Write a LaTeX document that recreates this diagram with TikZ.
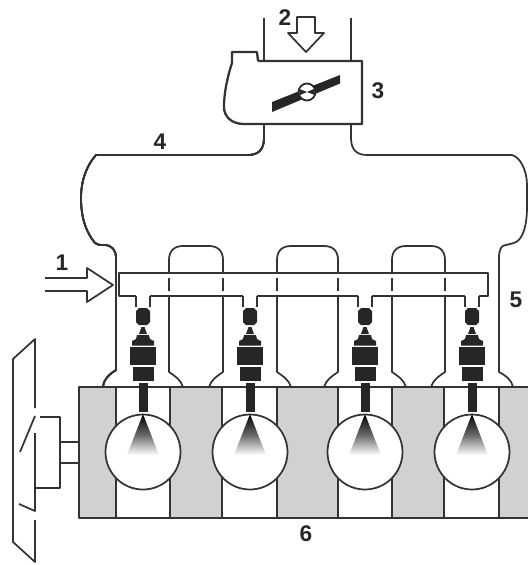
\documentclass[tikz,border=0pt]{standalone}
\usepackage{fontspec}
\setmainfont{Liberation Sans}
\definecolor{ink}{gray}{0.2}
\definecolor{blockgray}{gray}{0.82}
\tikzset{
  wall/.style={draw=ink,line width=1.3pt,line join=round},
  thick wall/.style={draw=ink,line width=1.7pt,line join=round},
  solid part/.style={fill=black!85,draw=none},
  lab/.style={font=\bfseries\fontsize{17}{17}\selectfont,text=black!85,inner sep=0pt},
}
\newcommand{\injector}[1]{%
  \begin{scope}[shift={(#1,0)}]
    \draw[wall] (-7,296) -- (-7,307) (7,296) -- (7,307);
    \fill[solid part] (-4,308) -- (4,308) -- (7,311) -- (7,322) -- (4,325) -- (-4,325) -- (-7,322) -- (-7,311) -- cycle;
    \fill[solid part] (-1.5,327) -- (1.5,327) -- (4,334) -- (-4,334) -- cycle;
    \fill[solid part] (-6,335) -- (6,335) -- (7,339) -- (11,341) -- (11,345.5) -- (-11,345.5) -- (-11,341) -- (-7,339) -- cycle;
    \fill[solid part] (-13,347) -- (13,347) -- (13,364.5) -- (-13,364.5) -- cycle;
    \fill[solid part] (-10.5,366.5) -- (10.5,366.5) -- (10.5,381) -- (-10.5,381) -- cycle;
    \fill[solid part] (-4.5,383) -- (4.5,383) -- (4.5,412) -- (-4.5,412) -- cycle;
    \draw[wall,fill=white] (0,452) circle (37.5);
    \shade[top color=black,bottom color=white,middle color=black!60] (0,414) -- (16,455) -- (-16,455) -- cycle;
  \end{scope}}
\begin{document}
\begin{tikzpicture}[x=0.75pt,y=-0.75pt]
\useasboundingbox (0,0) rectangle (528,565);
% engine block
\fill[blockgray] (79,387) rectangle (116,518) (170,387) rectangle (222,518)
  (277,387) rectangle (338,518) (392,387) rectangle (444,518) (499,387) rectangle (528,518);
\draw[wall] (528,387) -- (79,387) -- (79,518) -- (528,518);
\foreach \xx in {116,170,222,277,338,392,444,499}
  \draw[wall] (\xx,387) -- (\xx,518);
\foreach \xx in {143,250,365,472} \injector{\xx}
% manifold outer
\draw[wall] (264,124) -- (264,138) .. controls (264,150) and (258,155) .. (248,155)
  -- (96,155) .. controls (87,165) and (81,180) .. (81,198)
  .. controls (81,218) and (86,232) .. (95,243)
  .. controls (97,245) and (100,245) .. (104,245)
  .. controls (112,245) and (116,250) .. (116,258)
  -- (116,370) .. controls (110,374) and (104,378) .. (103,387);
\draw[wall] (351,124) -- (351,138) .. controls (351,150) and (357,155) .. (367,155)
  -- (512,155) .. controls (520,157) and (527,170) .. (527,185)
  -- (527,208) .. controls (527,222) and (524,240) .. (514,243)
  -- (506,245) .. controls (501,245) and (499,250) .. (499,258)
  -- (499,372) .. controls (505,375) and (512,380) .. (513,387);
% runners
\foreach \xa/\xb in {169/223,277/338,392/445}{
  \draw[wall] (\xa+14,387) .. controls (\xa+12,380) and (\xa+6,376) .. (\xa,372) -- (\xa,297);
  \draw[wall] (\xa,273) -- (\xa,260) .. controls (\xa,251) and (\xa+5,246) .. (\xa+14,246)
    -- (\xb-14,246) .. controls (\xb-5,246) and (\xb,251) .. (\xb,260) -- (\xb,273);
  \draw[wall] (\xb,297) -- (\xb,372) .. controls (\xb-6,376) and (\xb-12,380) .. (\xb-14,387);
  \draw[wall] (\xa,277.5) -- (\xa,291) (\xb,277.5) -- (\xb,291);
}
% fuel rail
\draw[wall] (136,296) -- (119,296) -- (119,273) -- (488,273) -- (488,296) -- (479,296);
\draw[wall] (150,296) -- (243,296) (257,296) -- (358,296) (372,296) -- (465,296);
% throttle body
\draw[wall] (264,18) -- (264,61) (351,18) -- (351,61);
\draw[thick wall] (258,61) -- (362,61) -- (362,124) -- (244,124)
  .. controls (232,124) and (224,117) .. (224,107)
  .. controls (224,90) and (229,72) .. (232,63) -- (232,52) -- (257,52) -- (258,61);
\fill[black!85] (272,102) -- (340,75) -- (340,83.5) -- (272,112) -- cycle;
\fill[white] (307,92) circle (8.5);
\fill[black!85] (307,92) -- (298.9,95.5) arc[start angle=203,end angle=157,radius=-8.5] -- cycle;
\fill[black!85] (307,92) -- (315.1,88.5) arc[start angle=23,end angle=-23,radius=-8.5] -- cycle;
\draw[line width=1.3pt,draw=black!85] (307,92) circle (8.5);
% arrows
\draw[wall] (297,17) -- (315,17) -- (315,33) -- (324,33) -- (306,52) -- (288,33) -- (297,33) -- cycle;
\draw[wall] (45,278) -- (87,278) -- (87,268) -- (113,285) -- (87,302) -- (87,291) -- (45,291);
% clutch
\draw[wall] (35,408) -- (35,339) -- (13,359) -- (13,542) -- (35,562) -- (35,520);
\draw[wall] (35,416) -- (20,452);
\draw[wall] (35,433) -- (35,511) -- (19,504);
\draw[wall] (40,417) -- (60,417) -- (60,488) -- (35,488);
\draw[wall] (60,442) -- (79,442) (60,463) -- (79,463);
% labels
\node[lab] (n1) at (62,263) {1};
\node[lab] (n2) at (285,18) {2};
\node[lab] (n3) at (378,91) {3};
\node[lab] (n4) at (160,142) {4};
\node[lab] (n5) at (516,300) {5};
\node[lab] (n6) at (306,534) {6};
\end{tikzpicture}
\end{document}
